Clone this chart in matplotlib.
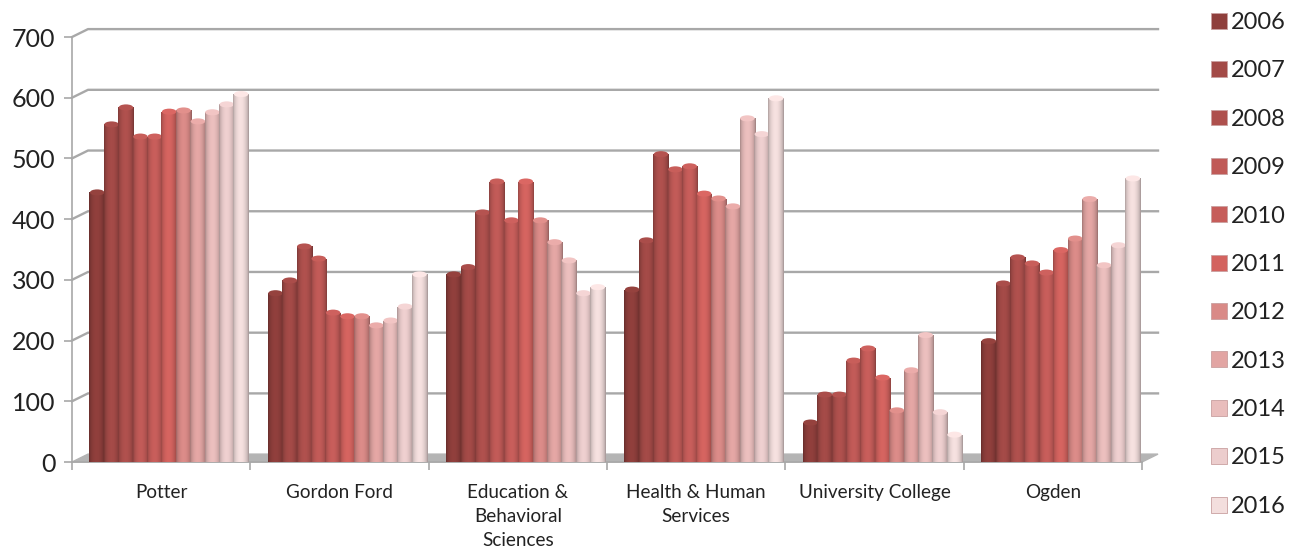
import numpy as np
import matplotlib.pyplot as plt
from matplotlib.patches import Ellipse, Polygon, Patch
from matplotlib.colors import to_rgb

plt.rcParams['font.family'] = ['Lato', 'DejaVu Sans']

colleges = ['Potter', 'Gordon Ford', 'Education &\nBehavioral\nSciences',
            'Health & Human\nServices', 'University College', 'Ogden']
years = ['2006', '2007', '2008', '2009', '2010', '2011', '2012', '2013', '2014', '2015', '2016']

potter = [444, 556, 584, 536, 536, 577, 579, 561, 576, 589, 606]
gordon_ford = [278, 299, 355, 335, 246, 240, 240, 225, 233, 256, 309]
education = [309, 321, 411, 462, 398, 462, 398, 362, 332, 278, 288]
health = [284, 365, 507, 482, 487, 442, 434, 421, 566, 540, 599]
university = [65, 111, 111, 167, 187, 139, 85, 151, 209, 82, 45]
ogden = [199, 294, 337, 327, 312, 349, 368, 433, 324, 357, 467]
values = [potter, gordon_ford, education, health, university, ogden]

colors = ['#8f3f3c', '#a34a47', '#ae504d', '#c05a57', '#c65d5a', '#d3635f',
          '#d98a87', '#e2a5a3', '#e9bdbc', '#eccdcd', '#f3dedd']

W, H = 1295, 548
fig = plt.figure(figsize=(W / 100, H / 100), dpi=100)
ax = fig.add_axes([72 / W, 1 - 462 / H, (1142 - 72) / W, (462 - 37) / H])
ax.set_xlim(-0.5, 5.5)
ax.set_ylim(0, 700)

# depth of the fake 3d box, in data units
dx = 16 / 178.3
dy = 13
grid_col = '#a8a8a8'

ax.add_patch(Polygon([(-0.5, 0), (-0.5 + dx, dy), (5.5 + dx, dy), (5.5, 0)],
                     closed=True, color='#b4b4b4', clip_on=False, zorder=1))
for v in range(100, 800, 100):
    ax.plot([-0.5, -0.5 + dx, 5.5 + dx], [v, v + dy, v + dy], color=grid_col, lw=1.7,
            clip_on=False, zorder=1, solid_joinstyle='round')

# cylinder shading across one bar
t = np.linspace(0, 1, 30)
shade = 0.72 + 0.32 * np.sin(np.pi * t) ** 0.6 - 0.05 * t

bar_w = 15.4 / 178.3
offset = 8 / 178.3
z = 3
for i, group in enumerate(values):
    for j, v in enumerate(group):
        x = i + offset + (j - 5) * 14.4 / 178.3
        rgb = np.array(to_rgb(colors[j]))
        bar = ax.bar(x, v, width=bar_w, color=colors[j], zorder=z, linewidth=0)[0]
        img = np.clip(shade[None, :, None] * rgb[None, None, :], 0, 1)
        im = ax.imshow(img, extent=(x - bar_w / 2, x + bar_w / 2, 0, v), aspect='auto', zorder=z + 0.1)
        im.set_clip_path(bar)
        ax.add_patch(Ellipse((x, v), bar_w * 0.94, 10, color=np.clip(rgb * 1.04, 0, 1), lw=0, zorder=z + 0.2))
        z += 1
ax.set_xlim(-0.5, 5.5)
ax.set_ylim(0, 700)

for s in ['top', 'right']:
    ax.spines[s].set_visible(False)
for s in ['left', 'bottom']:
    ax.spines[s].set_color(grid_col)
    ax.spines[s].set_linewidth(1.2)
    ax.spines[s].set_zorder(2)

ax.set_yticks(range(0, 800, 100))
ax.tick_params(axis='y', length=6, width=1.2, color=grid_col, labelsize=18, pad=6, labelcolor='#222222')
ax.set_xticks(range(6))
ax.set_xticklabels(colleges, fontsize=13.6, color='#222222', linespacing=1.5)
ax.tick_params(axis='x', which='major', length=0, pad=16)
ax.set_xticks(np.arange(-0.5, 6), minor=True)
ax.tick_params(axis='x', which='minor', length=6, width=1.2, color=grid_col)

handles = [Patch(facecolor=c, edgecolor='#c9a0a0', linewidth=0.6) for c in colors]
fig.legend(handles, years, loc='upper left', bbox_to_anchor=(1211 / W, 1 - 12 / H), frameon=False,
           fontsize=17, labelspacing=1.16, handlelength=0.66, handleheight=0.66, handletextpad=0.2,
           borderpad=0, borderaxespad=0, labelcolor='#222222')

fig.savefig('out.png', dpi=100)
